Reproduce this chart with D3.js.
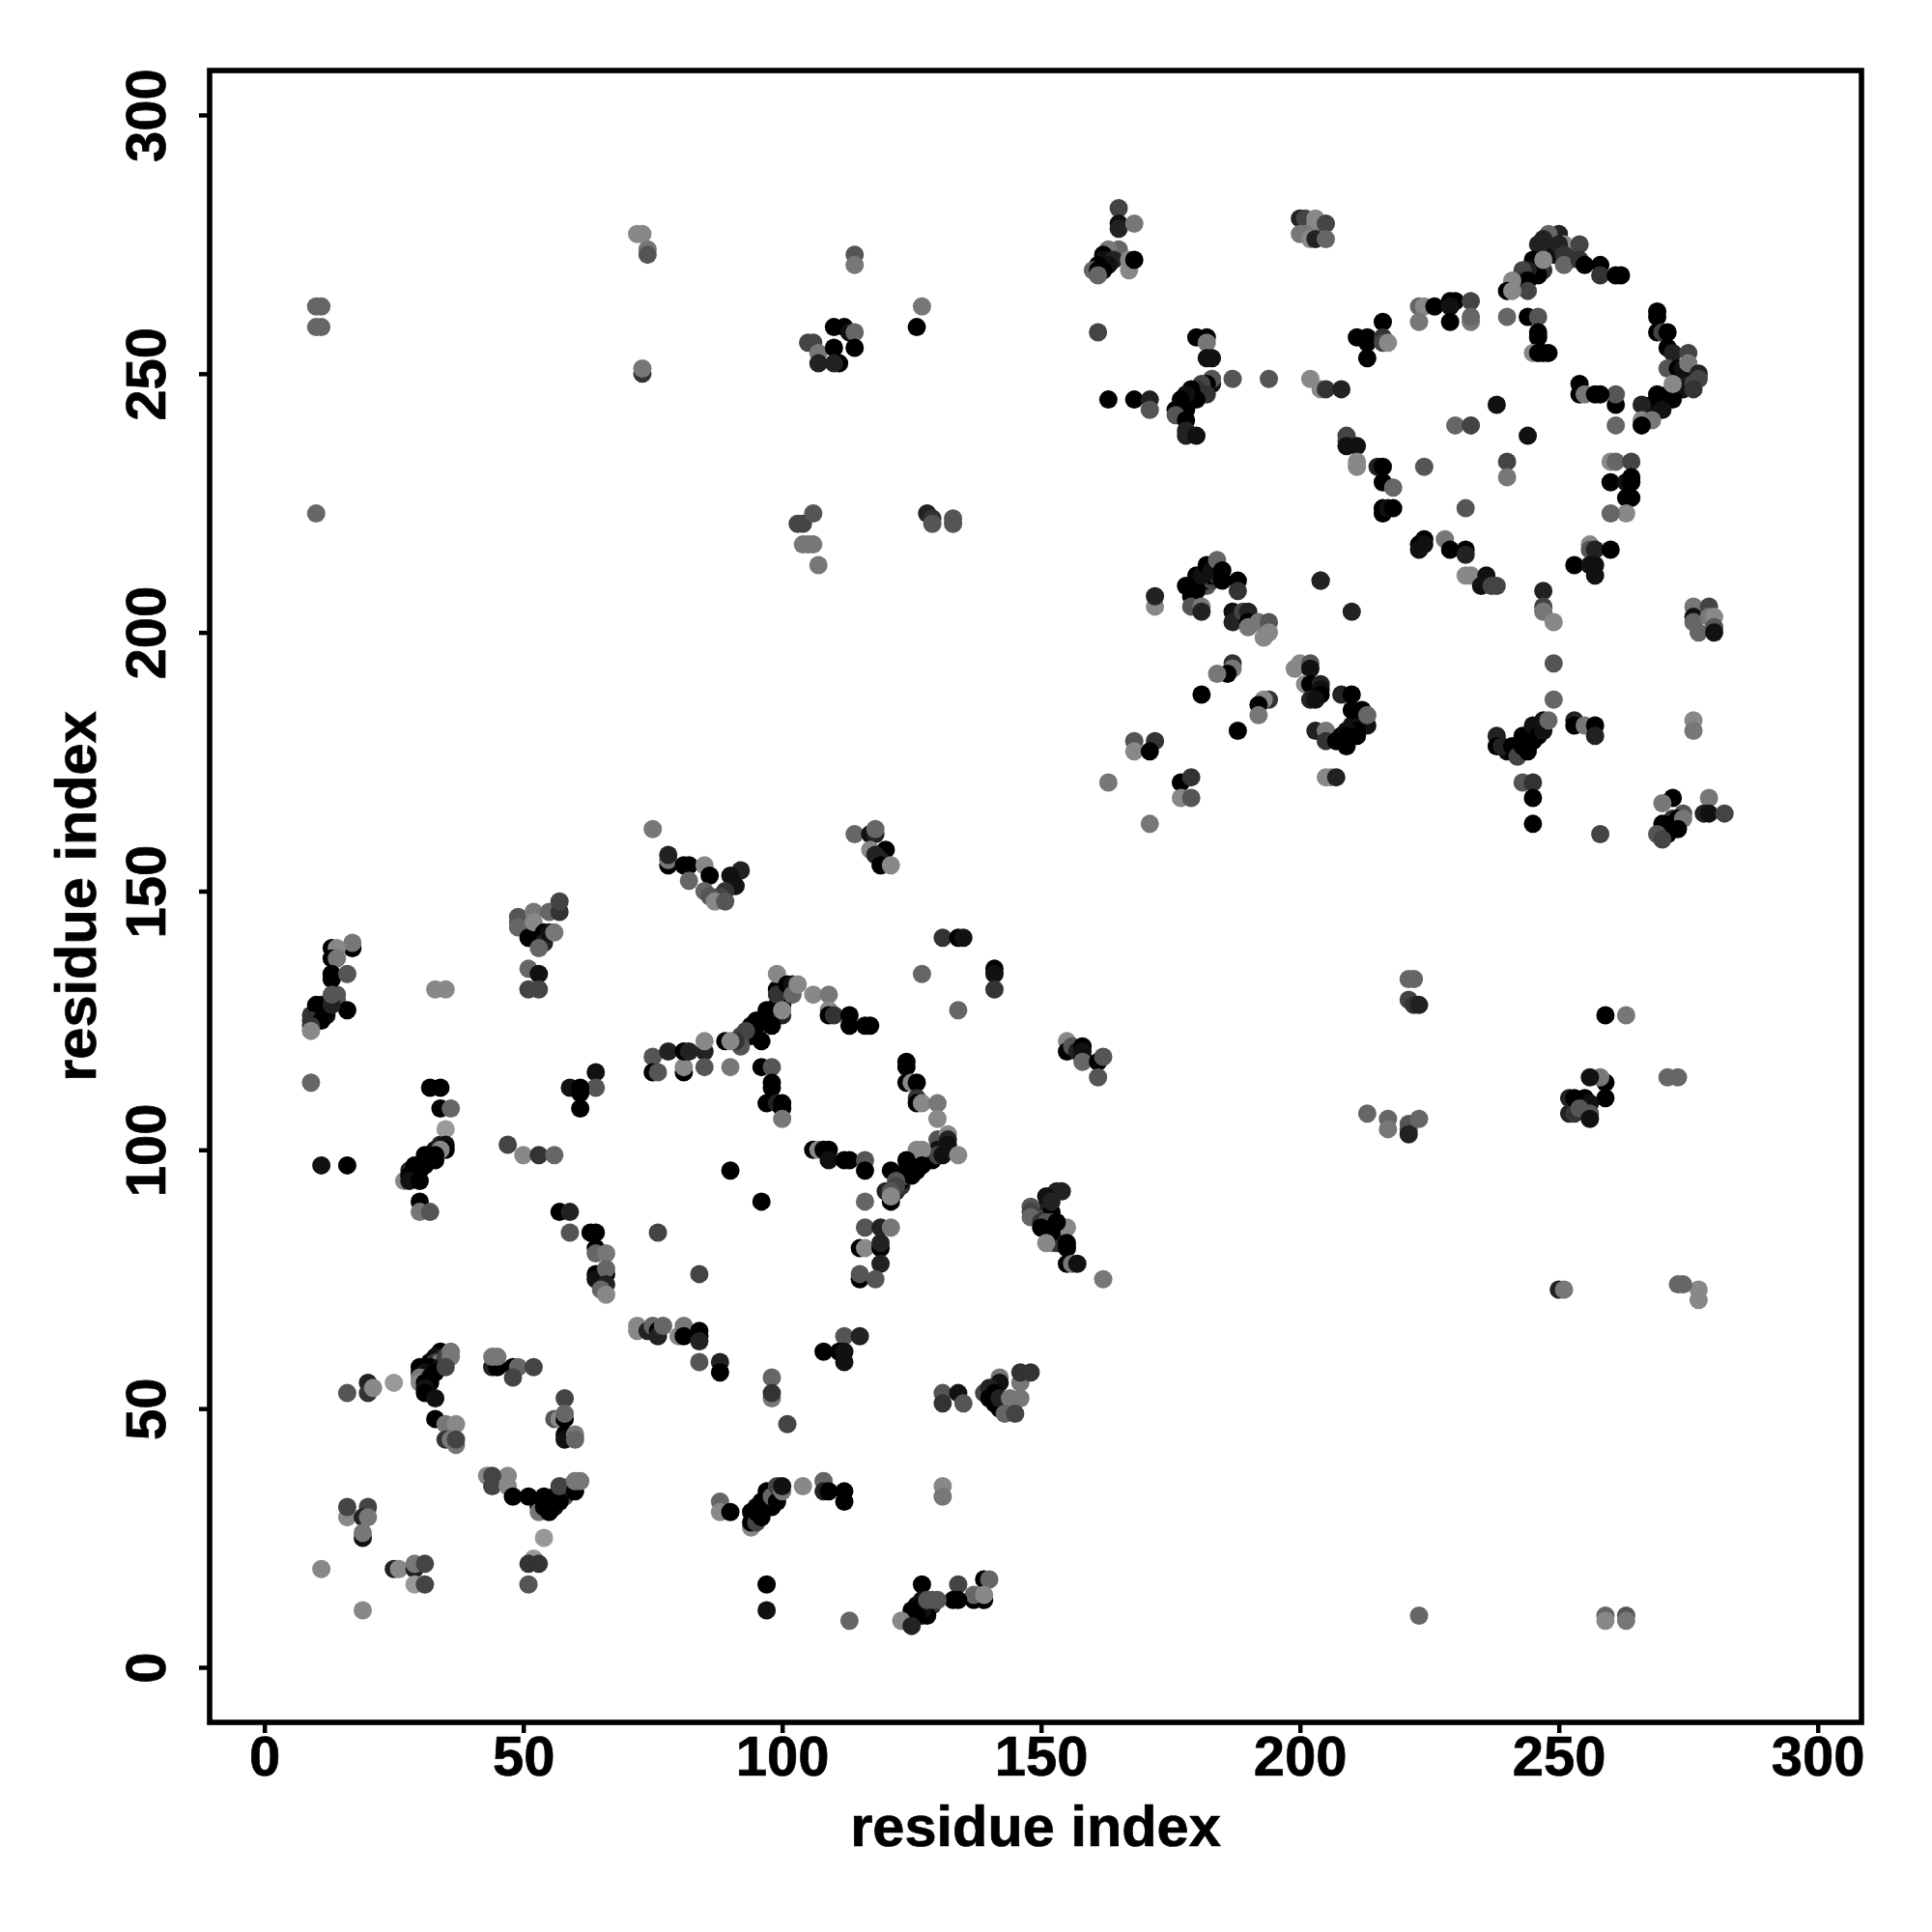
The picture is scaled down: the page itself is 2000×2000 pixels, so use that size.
<!DOCTYPE html>
<html><head><meta charset="utf-8">
<script src="https://cdn.jsdelivr.net/npm/d3@7"></script>
<style>html,body{margin:0;padding:0;background:#fff}svg{display:block}text{font-family:"Liberation Sans",Arial,sans-serif;font-weight:700;fill:#000;stroke:#000;stroke-width:0.7px}</style>
</head><body><div id="chart"></div>
<script>
// Each contact: [residue i, residue j, shade score 0 (black) .. 9 (light grey)]
const tickValues=[0,50,100,150,200,250,300];
const axisLabel="residue index";
const denseStrips=[[33,100,1],[34,101,2],[32,99,1],[30,97,0],[29,96,1],[28,96,2],[31,98,1],[33,98,0],[10,126,1],[11,128,1],[12,128,0],[13,129,1],[14,129,5],[14,130,5],[10,125,2],[12,126,1],[9,126,3],[31,56,1],[32,57,0],[33,58,0],[34,60,2],[35,59,3],[31,58,1],[95,29,0],[96,30,0],[97,31,0],[97,32,0],[98,32,2],[99,33,0],[99,34,1],[98,34,1],[96,31,5],[95,31,1],[126,11,2],[127,10,1],[126,12,0],[128,11,1],[128,12,1],[129,12,3],[240,177,1],[241,177,0],[242,177,1],[242,178,4],[243,179,0],[244,179,4],[244,180,1],[245,180,3],[245,181,0],[246,181,4],[246,182,1],[247,183,1],[177,243,1],[178,244,0],[178,245,3],[179,245,0],[179,246,4],[180,246,0],[181,246,3],[181,247,0],[182,247,3],[183,248,1],[244,269,1],[245,270,0],[245,269,4],[246,270,0],[247,270,3],[247,274,1],[248,275,2],[249,275,0],[249,274,4],[249,273,1],[252,274,2],[252,272,3],[253,273,3],[269,243,0],[270,244,0],[270,245,5],[271,245,0],[271,246,5],[272,246,0],[273,247,0],[273,248,3],[274,249,3],[275,249,2],[275,248,2],[276,250,3],[274,247,1],[271,162,0],[272,162,1],[271,163,1],[272,164,3],[273,163,1],[209,179,0],[210,180,0],[210,181,4],[211,182,0],[212,182,0],[212,183,4],[212,184,0],[211,183,1],[211,184,0],[210,182,1],[180,209,0],[179,209,2],[181,209,0],[182,209,5],[182,210,0],[183,210,4],[183,211,0],[184,212,0],[184,211,3],[180,210,1],[122,92,2],[123,93,3],[123,94,0],[123,95,0],[124,95,5],[125,96,0],[125,97,0],[126,97,6],[126,98,0],[127,98,1],[128,98,0],[128,99,4],[129,98,0],[150,87,1],[151,88,1],[151,89,2],[152,91,1],[152,88,0],[153,85,0],[152,86,5],[153,84,0],[154,84,0],[154,83,5],[149,87,4],[93,122,3],[94,122,0],[94,124,0],[95,123,3],[96,125,0],[96,124,4],[97,125,0],[98,126,3],[98,125,0],[99,127,0],[99,128,0],[100,128,0],[100,130,0],[101,131,3],[100,131,0],[92,121,3],[54,32,0],[55,32,0],[55,31,0],[56,31,1],[56,32,0],[58,33,5],[58,34,0],[59,35,7],[59,34,2]];
const nearOriginA=[[16,53,5],[20,55,2],[20,53,3],[21,54,8],[25,55,9],[34,61,0],[33,60,1],[32,59,0],[33,59,3],[34,59,7],[30,58,0],[32,58,0],[34,58,1],[30,57,0],[31,57,1],[33,57,0],[30,56,7],[32,56,0],[30,55,8],[31,55,0],[32,55,0],[31,54,1],[31,53,0],[33,52,1],[35,60,4],[36,61,7],[36,60,7],[35,58,4],[33,48,0],[35,47,7],[37,47,8],[35,44,3],[37,43,7],[36,44,7],[37,44,4],
[44,58,2],[45,58,0],[44,60,7],[45,60,7],[48,58,0],[49,58,6],[52,58,4],[48,56,4],[58,52,4],[56,48,5],[57,48,8],[58,48,0],[58,49,6],[58,45,0],[58,44,1],[60,45,7],[60,44,6],[76,84,4],[84,76,4],[59,84,5],[57,88,0],[59,88,2],[63,84,0],[64,84,0],[64,81,0],[64,80,6],[66,80,7],[64,76,0],[66,76,0],[64,75,1],[66,77,6],[66,74,2],[65,73,6],[66,72,8]];
const nearOriginB=[[72,66,8],[72,65,8],[74,65,2],[75,66,6],[76,65,0],[76,64,2],[77,66,6],[80,64,8],[81,66,7],[81,64,0],[84,65,0],[84,64,0],[84,63,2],[84,59,5],[88,59,2],[88,57,0],[98,56,6],[98,52,7],[98,53,3],[101,47,4],[43,37,8],[47,37,8],[44,37,4],[44,35,4],[47,35,8],[48,33,0],[51,33,0],[53,31,0],[53,30,7],[55,30,0],[54,31,0],[54,33,0],[56,33,0],[57,32,0],[57,35,4],[60,34,0],[60,36,7],[61,36,7],[54,25,9],[52,21,9],[51,20,3],[53,20,3],[51,16,5],[97,16,0],[97,11,1],
[16,29,8],[16,31,4],[20,31,4],[19,29,2],[20,29,7],[19,25,1],[19,26,7],[11,19,8],[25,19,2],[26,19,8],[29,19,2],[29,20,7],[31,20,4],[29,16,9],[31,16,4],[19,11,8],[88,32,6],[88,30,8],[90,30,0],[94,27,8],[94,30,0],[94,28,0],[95,28,4],[95,30,0],[96,29,0],[96,32,0],[97,34,0],[98,31,0],[98,33,6],[99,32,0],[99,35,4],[100,34,7],[100,35,1],[104,35,8]];
const nearOriginC=[[116,85,5],[119,85,2],[121,85,7],[115,81,0],[116,81,8],[119,81,0],[119,82,2],[119,78,2],[115,75,0],[115,76,5],[118,75,5],[155,85,8],[153,86,0],[152,82,8],[153,82,3],[155,81,0],[155,82,0],[155,78,0],[156,78,7],[157,78,1],[162,75,7],[112,64,5],[115,64,2],[108,61,0],[111,61,0],[112,61,1],[112,59,1],[131,53,5],[134,53,1],[131,51,3],[135,51,5],[146,55,7],[146,57,3],[148,57,3],[142,56,7],[142,55,1],[139,53,4],[140,54,2],[141,53,0],[140,52,0],[141,51,0],[142,50,0],[142,52,2],[144,52,7],[146,52,7],[143,49,6],[145,49,4],
[108,36,6],[108,34,2],[109,34,0],[112,34,0],[112,32,0],[131,35,8],[131,33,7],[113,9,6],[127,16,0],[134,16,4],[139,17,0],[140,17,6],[137,13,0],[139,13,0],[137,14,6],[139,14,8],[133,13,0],[134,13,0],[127,13,1],[127,12,0],[128,10,0],[127,11,1],[125,11,0],[126,10,0],[125,9,0],[123,9,8],[125,8,2],[128,13,5],[129,13,5],[130,13,5]];
const midLeft=[[75,162,7],[78,155,0],[78,156,7],[78,157,2],[81,155,0],[82,155,0],[82,152,6],[85,155,8],[86,153,0],[92,154,2],[90,153,1],[91,151,1],[89,150,3],[85,150,6],[88,149,4],[86,149,5],[87,148,8],[89,148,5],[50,143,0],[49,145,5],[49,144,5],[49,143,6],[51,141,0],[52,146,7],[52,144,8],[54,142,0],[54,140,2],[55,146,6],[57,146,3],[57,148,4],[53,139,6],[55,142,1],[56,142,7],[51,135,6],[53,134,1],[51,131,4],[53,131,4],[33,131,8],[35,131,8],
[17,139,0],[17,140,7],[13,139,0],[14,139,8],[13,137,0],[14,137,7],[13,134,0],[13,133,0],[16,134,5],[16,127,0],[10,128,0],[11,127,0],[12,127,0],[13,128,2],[13,130,5],[9,125,3],[11,125,0],[9,124,3],[9,123,8],[9,113,6],[11,97,1],[16,97,0],[32,112,0],[34,112,0],[34,108,0],[36,108,6],[35,104,9],[35,101,1],[35,100,0],[34,100,8],[33,99,0],[31,99,0],[32,98,0],[31,97,0],[29,97,0],[30,96,0],[29,95,0],[27,94,8],[28,95,0],[28,94,1],[30,94,0],[30,90,0],[30,88,7],[32,88,5],[47,101,4],[50,99,8],[53,99,3],[56,99,6]];
const midCentre=[[64,115,1],[64,112,5],[59,112,1],[61,112,0],[61,111,0],[61,108,0],[75,118,5],[78,119,2],[75,115,0],[76,115,5],[81,115,0],[81,116,8],[81,119,0],[82,119,2],[85,119,2],[85,121,8],[85,116,5],[90,116,7],[114,161,6],[117,161,1],[118,161,2],[118,162,6],[117,158,8],[120,158,0],[118,157,2],[119,156,2],[119,155,0],[121,155,8],[171,163,7],[131,141,3],[134,141,0],[135,141,1],[141,135,0],[141,134,1],[141,131,3],[127,134,6],[134,127,6],
[99,131,0],[99,130,3],[99,134,8],[101,132,0],[102,132,1],[102,130,6],[103,132,8],[106,130,8],[109,130,7],[109,127,8],[109,126,0],[110,126,3],[113,126,0],[113,124,0],[116,124,0],[117,124,0],[97,127,0],[97,126,0],[100,126,2],[100,127,8],[95,125,0],[95,124,0],[98,124,0],[94,123,0],[93,123,4],[96,121,0],[92,122,4],[92,120,5],[91,121,3],[89,121,0],[90,121,8],[96,116,0],[98,116,5],[98,113,0],[98,112,0],[97,109,0],[99,109,2],[100,108,0],[100,109,0],[100,106,7]];
const midRing=[[124,117,0],[124,116,0],[124,113,0],[125,113,8],[126,113,0],[126,110,3],[126,109,0],[127,109,8],[130,109,7],[130,106,8],[130,102,5],[132,103,8],[132,102,2],[132,101,1],[130,100,1],[130,99,4],[131,99,1],[134,99,8],[126,100,8],[127,100,8],[127,97,0],[126,96,0],[125,95,0],[124,98,0],[124,96,0],[121,96,0],[122,94,5],[122,93,4],[120,92,2],[121,92,5],[121,90,0],[121,91,8],[106,100,0],[107,100,8],[108,100,0],[109,100,0],[109,98,1],[112,98,0],[113,98,0],[116,98,5],[116,96,0],[90,96,0],[96,90,0],[116,90,6],[155,121,8],[155,119,0],[156,120,5],[157,119,2],[158,120,0],[158,119,1],[158,118,1],[158,117,6],[161,117,0],[162,118,5],[161,114,5],
[153,92,2],[154,92,2],[151,91,1],[152,90,2],[148,89,5],[148,88,4],[148,87,6],[150,86,3],[151,86,5],[153,86,0],[150,85,0],[152,84,0],[151,82,8]];
const upperMid=[[172,205,8],[172,207,2],[178,209,0],[179,207,0],[180,208,0],[179,205,5],[181,205,7],[181,204,2],[180,211,0],[181,211,1],[182,213,0],[183,212,1],[184,214,6],[185,212,0],[185,210,0],[188,210,0],[188,208,3],[187,204,1],[187,202,2],[189,204,4],[190,204,2],[190,202,0],[190,201,7],[192,202,7],[194,202,5],[194,200,8],[193,199,8],[204,210,1],[210,204,2],[187,194,3],[187,193,7],[186,192,0],[184,192,7],[181,188,0],[188,181,0],[194,187,3],[193,187,8],[192,186,0],[192,184,7],
[199,193,8],[200,194,8],[202,194,5],[202,193,1],[201,190,8],[202,190,0],[204,190,2],[204,189,1],[204,188,0],[202,187,2],[203,187,1],[208,188,2],[210,188,0],[210,185,0],[212,185,0],[213,182,1],[213,184,6],[211,181,0],[203,181,2],[205,181,7],[205,179,3],[207,179,0],[208,180,0],[209,181,1],[209,180,0],[209,178,0],[211,180,0],[205,172,8],[206,172,8],[207,172,2],[168,179,5],[172,179,3],[168,177,8],[171,177,0],[163,171,7],[177,171,0],[179,172,3],[177,168,8],[179,168,5]];
const upperRightLow=[[238,180,2],[238,178,0],[239,178,2],[241,178,0],[242,176,4],[243,180,0],[243,178,0],[244,177,0],[245,182,1],[245,179,0],[246,180,0],[247,182,1],[247,181,1],[248,183,6],[247,208,2],[247,205,4],[247,204,7],[249,202,8],[249,194,5],[249,187,6],[253,183,2],[253,182,0],[255,182,7],[257,182,0],[257,180,2],[243,171,5],[245,171,3],[245,168,0],[245,163,0],[258,161,4]];
const topRing=[[200,280,2],[201,280,4],[203,280,8],[203,279,8],[205,279,4],[200,277,7],[201,277,7],[202,276,8],[203,276,2],[205,276,6],[250,277,2],[248,277,6],[247,276,2],[246,275,2],[251,275,8],[250,275,2],[254,275,4],[251,273,3],[251,271,6],[254,272,3],[255,271,0],[258,271,0],[258,269,3],[261,269,0],[262,269,0],[246,271,1],[245,272,0],[246,269,0],[244,270,2],[243,270,4],[247,272,8],[243,268,3],[244,268,0],[244,266,4],[241,268,8],[240,266,0],[241,266,8],
[223,263,6],[224,263,8],[226,263,0],[229,264,0],[230,264,0],[229,263,1],[233,264,4],[233,260,7],[233,261,6],[223,260,7],[229,260,0],[240,261,6],[244,261,0],[246,261,5],[246,258,0],[246,257,0],[245,254,8],[246,254,0],[247,254,0],[248,254,0],[216,260,0],[211,257,0],[213,257,0],[213,256,0],[213,253,0],[216,257,3],[216,256,4],[217,256,8],[202,249,8],[204,247,8],[205,247,3],[208,247,2]];
const ringInner=[[238,244,1],[230,240,6],[233,240,4],[244,238,1],[209,238,4],[209,237,4],[209,236,1],[211,236,1],[211,233,8],[211,232,8],[215,232,2],[216,232,0],[216,229,0],[218,228,6],[216,224,0],[216,223,0],[217,224,1],[218,224,0],[224,232,5],[240,233,4],[240,230,7],[232,224,5],[224,218,0],[223,217,0],[224,217,1],[223,216,1],[228,218,7],[229,216,0],[232,216,0],[232,215,2],[232,211,8],[233,211,8],[236,211,1],[235,209,1],[237,209,4],[238,209,4],[204,210,2],[256,217,8],[256,216,5],[257,216,2],[260,216,0],[253,213,0],[256,213,1],[257,213,1],[257,211,1],[260,233,8],[261,233,6],[264,233,4],[260,229,0],[263,229,1],[264,230,0],[264,229,0],[263,226,0],[264,226,0],[263,223,8],[260,223,6]];
const ringRight=[[261,240,6],[261,244,0],[261,246,5],[254,248,0],[254,246,0],[255,246,7],[257,246,0],[258,246,0],[269,262,0],[269,261,0],[269,258,0],[270,258,4],[271,258,0],[271,255,0],[272,254,2],[275,254,4],[271,251,5],[273,251,0],[274,251,1],[275,252,7],[277,250,2],[277,249,4],[276,248,4],[276,247,3],[272,245,0],[272,248,8],[269,246,0],[269,244,0],[268,244,0],[270,243,1],[268,242,1],[266,244,2],[266,241,8],[268,241,7],[266,240,0]];
const upperLeftCorner=[[165,282,4],[165,279,1],[165,278,2],[168,279,7],[165,274,6],[163,274,7],[162,273,0],[162,272,1],[164,272,2],[163,271,1],[161,271,0],[160,270,6],[161,270,0],[162,270,0],[161,269,6],[167,270,8],[167,272,8],[168,272,0],[161,258,4],[180,257,0],[182,257,0],[182,256,7],[182,253,1],[183,253,1],[163,245,0],[168,245,0],[171,245,2],[171,243,5],[183,249,5],[182,248,0],[181,248,4],[180,247,3],[182,246,3],[179,247,0],[180,245,0],[178,246,1],[177,245,0],[177,244,0],[176,243,0],[178,243,0],[176,242,5],[178,241,0],[178,239,2],[178,238,2],[180,238,1],[187,249,5],[194,249,5]];
const rightEdge=[[276,205,7],[279,205,4],[276,203,1],[276,202,6],[279,203,7],[280,203,8],[277,200,6],[280,201,5],[280,200,1],[276,183,8],[276,181,7],[272,168,0],[279,168,7],[270,167,7],[278,165,2],[279,165,1],[282,165,4],[274,165,5],[273,164,0],[272,163,0],[274,164,7],[270,163,0],[270,162,0],[273,162,0],[271,161,0],[269,161,5],[270,160,4]];
const offDiagonalTopLeft=[[10,263,6],[11,263,6],[10,259,6],[11,259,6],[10,223,6],[72,277,8],[73,277,8],[74,274,7],[74,273,5],[73,250,3],[73,251,7],[114,273,5],[114,271,7],[105,256,4],[106,256,4],[107,254,7],[107,252,2],[110,259,0],[110,255,0],[112,259,0],[113,258,1],[114,258,6],[114,255,0],[111,252,0],[110,252,2],[127,263,7],[126,259,0],[103,221,4],[104,221,4],[106,223,5],[104,217,7],[105,217,7],[106,217,7],[107,213,7],[128,223,2],[129,222,3],[129,221,5],[133,222,5],[133,221,5]];
const offDiagonalBottomRight=[[259,10,6],[259,9,8],[263,10,5],[263,9,7],[223,10,6],[277,73,8],[277,71,8],[274,74,6],[273,74,6],[250,73,2],[251,73,7],[273,114,6],[271,114,6],[259,126,0],[263,126,7],[252,110,2],[252,107,2],[253,107,3],[253,110,0],[255,110,0],[255,109,0],[259,113,0],[259,110,0],[258,114,7],[256,114,1],[256,109,1],[254,108,5],[256,107,5],[256,106,1],[221,133,6],[222,133,6],[221,129,4],[222,128,3],[223,128,2],[213,107,6],[217,106,6],[217,104,7],[221,105,5],[221,104,5],[221,103,2],[223,106,6]];

const contacts=[].concat(denseStrips,nearOriginA,nearOriginB,nearOriginC,midLeft,midCentre,midRing,upperMid,upperRightLow,topRing,ringInner,ringRight,upperLeftCorner,rightEdge,offDiagonalTopLeft,offDiagonalBottomRight);

const W=2000,H=2000,box={l:217,r:1927,t:73,b:1783};
const x=d3.scaleLinear().domain([0,300]).range([273.7,1881.7]);
const y=d3.scaleLinear().domain([0,300]).range([1726,119]);
const shade=d3.scaleLinear().domain([0,9]).range(["#000000","#999999"]);
const svg=d3.select("#chart").append("svg").attr("width",W).attr("height",H).attr("viewBox",[0,0,W,H]);
svg.append("rect").attr("width",W).attr("height",H).attr("fill","#fff");
svg.append("g").selectAll("circle").data(contacts).join("circle")
 .attr("cx",d=>x(d[0])).attr("cy",d=>y(d[1])).attr("r",9.5).attr("fill",d=>shade(d[2]));
svg.append("rect").attr("x",box.l).attr("y",box.t).attr("width",box.r-box.l).attr("height",box.b-box.t)
 .attr("fill","none").attr("stroke","#000").attr("stroke-width",5.6);
const gx=svg.append("g").attr("transform",`translate(0,${box.b+2})`)
 .call(d3.axisBottom(x).tickValues(tickValues).tickSize(9).tickPadding(0));
gx.select(".domain").remove();
gx.selectAll("line").attr("stroke","#000").attr("stroke-width",4.5);
gx.selectAll("text").attr("y",53).attr("dy",0).style("font-size","58px");
const gy=svg.append("g").attr("transform",`translate(${box.l-2},0)`)
 .call(d3.axisLeft(y).tickValues(tickValues).tickSize(9).tickPadding(0));
gy.select(".domain").remove();
gy.selectAll("line").attr("stroke","#000").attr("stroke-width",4.5);
gy.selectAll("text").attr("x",0).attr("y",0).attr("dy",0)
 .attr("text-anchor","middle")
 .attr("transform",`translate(${171-(box.l-2)},0) rotate(-90)`)
 .style("font-size","58px");
svg.append("text").attr("x",1072).attr("y",1911).attr("text-anchor","middle").style("font-size","59.5px").text(axisLabel);
svg.append("text").attr("transform","translate(99,928) rotate(-90)").attr("text-anchor","middle").style("font-size","59.5px").text(axisLabel);
</script></body></html>
